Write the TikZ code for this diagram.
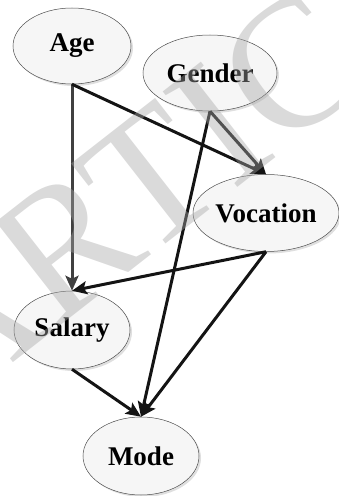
\documentclass[tikz,border=0pt]{standalone}
\usepackage{fontspec}
\setmainfont{Liberation Serif}
\usetikzlibrary{arrows.meta, shadows, shapes.geometric}

\begin{document}
\begin{tikzpicture}[x=1pt, y=1pt, thick,
    var node/.style={ellipse, draw=black!70, line width=0.5pt, fill=gray!7, inner sep=0pt,
        font=\fontsize{27}{30}\selectfont\bfseries,
        drop shadow={opacity=0.25, shadow xshift=2pt, shadow yshift=-2pt}},
    link/.style={-{Stealth[length=15pt, width=13pt, inset=3pt]}, line width=3pt, draw=black!92}]
\useasboundingbox (0,0) rectangle (339,496);

\node[var node, minimum width=118, minimum height=76] (age) at (72,450) {Age};
\node[var node, minimum width=134, minimum height=76] (gender) at (210,423) {Gender};
\node[var node, minimum width=146, minimum height=77] (vocation) at (266,283) {Vocation};
\node[var node, minimum width=116, minimum height=78] (salary) at (72,166) {Salary};
\node[var node, minimum width=116, minimum height=78] (mode) at (141,40) {Mode};

\draw[link, draw=black!75] (age.south) -- (salary.north);
\draw[link] (age.south) -- (vocation.north);
\draw[link] (gender.south) -- (vocation.north);
\draw[link] (gender.south) -- (mode.north);
\draw[link] (vocation.south) -- (salary.north);
\draw[link] (vocation.south) -- (mode.north);
\draw[link] (salary.south) -- (mode.north);

% watermark
\begin{scope}
\clip (0,0) rectangle (339,496);
\node[anchor=base west, rotate=38, text=black!35, opacity=0.42, inner sep=0pt,
    font=\fontsize{185}{185}\selectfont] (mark) at (-51,83) {ARTICLE};
\end{scope}
\end{tikzpicture}
\end{document}
